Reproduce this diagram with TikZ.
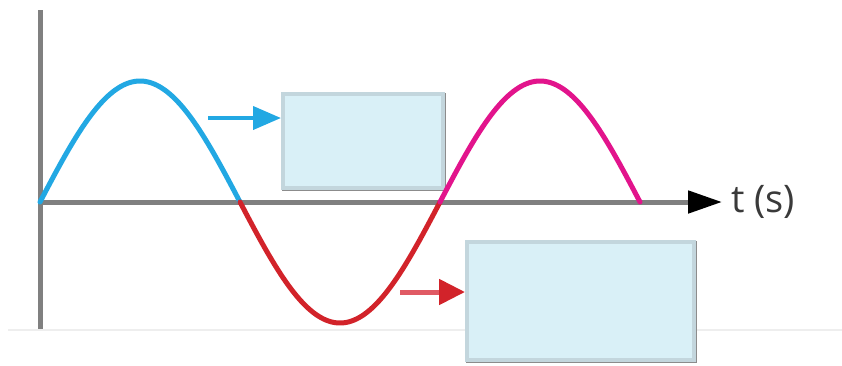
\documentclass[tikz,border=0pt]{standalone}
\usepackage{fontspec}
\setmainfont{Open Sans}
\usetikzlibrary{arrows.meta}
\definecolor{axisgray}{HTML}{808080}
\definecolor{wblue}{HTML}{22A8E3}
\definecolor{wred}{HTML}{D2232A}
\definecolor{wredlight}{HTML}{E05A64}
\definecolor{wmag}{HTML}{E2148C}
\definecolor{boxfill}{HTML}{D9F0F7}
\definecolor{boxline}{HTML}{C3D6DD}
\definecolor{boxshadow}{HTML}{8C8C8C}
\definecolor{faint}{HTML}{EEEEEE}
\definecolor{labelgray}{HTML}{3A3A3A}
\begin{document}
\begin{tikzpicture}[x=1pt,y=-1pt,
  axisline/.style={draw=axisgray,line width=5pt},
  wave/.style={line width=5pt,line cap=round},
  answerbox/.style={draw=boxline,fill=boxfill,line width=4pt,inner sep=0pt,anchor=north west},
  shadowbox/.style={fill=boxshadow,draw=none,inner sep=0pt,anchor=north west},
  pointer/.style={line width=4pt}
]
\useasboundingbox (0,0) rectangle (842,365);
% faint base line
\draw[faint,line width=1.5pt] (8,330) -- (842,330);
% axes
\coordinate (origin) at (40,202);
\coordinate (ytop) at (40,10);
\coordinate (ybot) at (40,329);
\coordinate (xend) at (722,202);
\draw[axisline] (ytop) -- (ybot);
\draw[axisline,-{Triangle[length=34pt,width=22pt,color=black,fill=black]}] (origin) -- (xend);
\node[anchor=west,text=labelgray,font=\fontsize{38}{40}\selectfont,inner sep=0pt] (tlabel) at (731,202) {t (s)};
% boxes
\node[shadowbox,minimum width=164pt,minimum height=98pt] (shadow1) at (282,93) {};
\node[answerbox,minimum width=160pt,minimum height=94pt] (box1) at (281,92) {};
\node[shadowbox,minimum width=231pt,minimum height=122pt] (shadow2) at (466,241) {};
\node[answerbox,minimum width=227pt,minimum height=118pt] (box2) at (465,240) {};
% waves
\draw[wave,wblue] plot[domain=0:200,samples=80] ({40+\x},{202-121*sin(0.9*\x)});
\draw[wave,wred] plot[domain=200:400,samples=80] ({40+\x},{202-121*sin(0.9*\x)});
\draw[wave,wmag] plot[domain=400:600,samples=80] ({40+\x},{202-121*sin(0.9*\x)});
% pointers
\coordinate (bstart) at (208,118);
\coordinate (rstart) at (400,292);
\draw[pointer,wblue,-{Triangle[length=28pt,width=23pt]}] (bstart) -- (box1.west |- bstart);
\draw[pointer,wredlight,line width=5pt,-{Triangle[length=26pt,width=25pt,fill=wred,color=wred]}] (rstart) -- (box2.west |- rstart);
\end{tikzpicture}
\end{document}
